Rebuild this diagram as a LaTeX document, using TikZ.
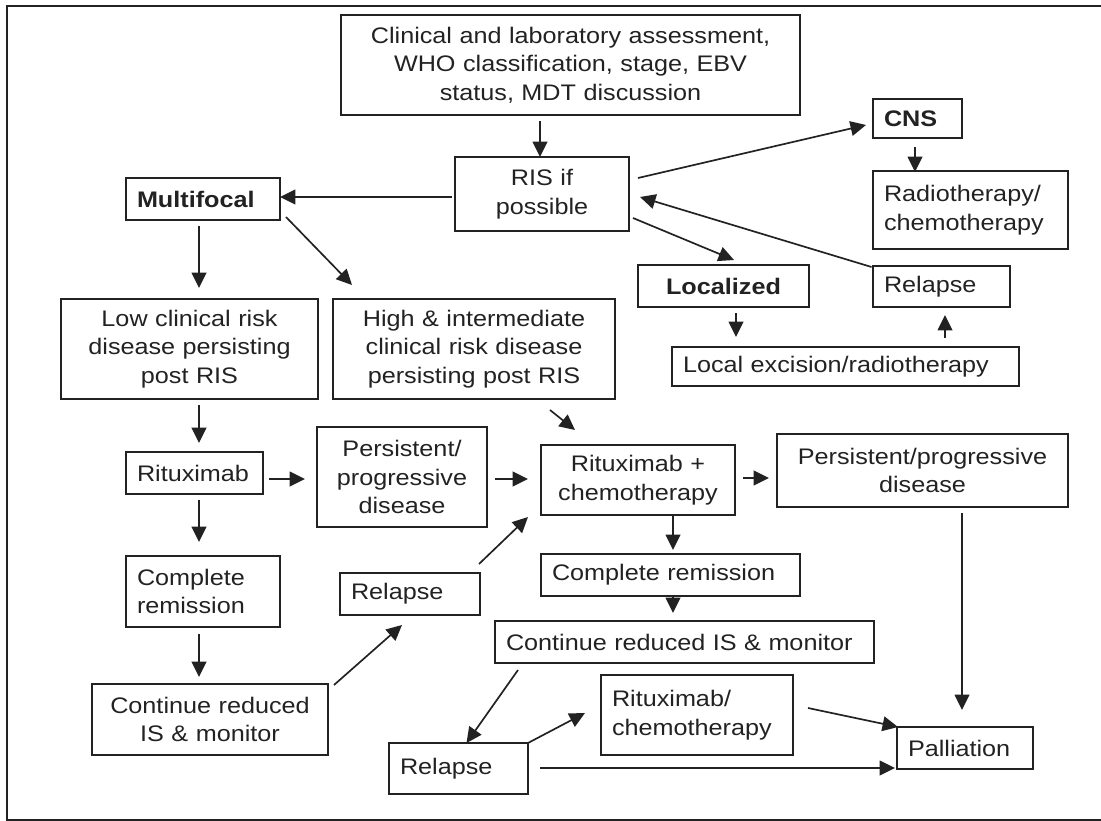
\documentclass[tikz,border=0pt]{standalone}
\usepackage{fontspec}
\setmainfont{Liberation Sans}[FakeStretch=1.12]
\usetikzlibrary{arrows.meta, calc}
\definecolor{ink}{HTML}{222222}

\begin{document}
\begin{tikzpicture}[
    x=0.025cm, y=-0.025cm,
    box/.style={draw=ink, line width=1.4pt, text=ink, inner xsep=0.275cm, inner ysep=0pt, font=\fontsize{16pt}{20.2pt}\selectfont},
    cbox/.style 2 args={box, align=center, text width=(#1-22)*0.025cm, minimum height=#2*0.025cm},
    lbox/.style 2 args={box, align=left, text width=(#1-22)*0.025cm, minimum height=#2*0.025cm},
    arrow/.style={-{Triangle[length=11pt, width=10.5pt]}, line width=1.2pt, ink},
]
\useasboundingbox (0,0) rectangle (1101,821);

% Frame
\draw[ink, line width=1pt] (1101,6) -- (7,6) -- (7,820) -- (1101,820);

% Assessment
\node[cbox={459}{100}] (assess) at (570.5,65) {Clinical and laboratory assessment,\\WHO classification, stage, EBV\\status, MDT discussion};
\node[cbox={174}{74}] (ris) at (542,194) {RIS if\\possible};

% CNS
\node[lbox={89}{39}] (cns) at (917.5,118.5) {\textbf{CNS}};
\node[lbox={195}{78}] (radio) at (970.5,210) {Radiotherapy/\\chemotherapy};

% Localized
\node[cbox={171}{42}] (local) at (723.5,286) {\textbf{Localized}};
\node[lbox={137}{41}] (relapseT) at (941.5,286.5) {Relapse};
\node[lbox={347}{39}] (excision) at (845.5,366.5) {Local excision/radiotherapy};

% Multifocal
\node[lbox={154}{42}] (multi) at (203,199) {\textbf{Multifocal}};
\node[cbox={257}{100}] (low) at (189.5,349) {Low clinical risk\\disease persisting\\post RIS};
\node[cbox={282}{100}] (high) at (474,349) {High \& intermediate\\clinical risk disease\\persisting post RIS};

% Low risk
\node[lbox={137}{42}] (ritux) at (194.5,473) {Rituximab};
\node[cbox={170}{100}] (persistL) at (402,477) {Persistent/\\progressive\\disease};
\node[lbox={154}{71}] (remitL) at (203,591.5) {Complete\\remission};
\node[cbox={236}{71}] (monitorL) at (210,719.5) {Continue reduced\\IS \& monitor};
\node[lbox={140}{42}] (relapseM) at (410,594) {Relapse};

% High risk
\node[cbox={194}{70}] (rchemo) at (638,480) {Rituximab +\\chemotherapy};
\node[cbox={291}{73}] (persistR) at (922.5,470.5) {Persistent/progressive\\disease};
\node[lbox={259}{42}] (remitR) at (670.5,575) {Complete remission};
\node[lbox={379}{42}] (monitorR) at (684.5,642) {Continue reduced IS \& monitor};
\node[lbox={192}{80}] (salvage) at (697,715) {Rituximab/\\chemotherapy\\[6pt]};
\node[lbox={139}{51}] (relapseB) at (458.5,768.5) {Relapse};
\node[lbox={136}{42}] (pall) at (965,748) {Palliation};

% Arrows
\foreach \i/\di/\j/\dj in {
    assess/{-30.5,56}/ris/{-2,-37},
    ris/{-90,3}/multi/{77,-2},
    multi/{-4,27}/low/{9.5,-61},
    multi/{83,18}/high/{-122,-64},
    ris/{96,-16}/cns/{-51.5,6.5},
    cns/{-2.5,28.5}/radio/{-55.5,-38},
    ris/{91,24}/local/{10.5,-26},
    relapseT/{-70,-19.5}/ris/{98,3},
    local/{12.5,27}/excision/{-109.5,-29.5},
    excision/{99.5,-28.5}/relapseT/{3.5,28.5},
    low/{9.5,56}/ritux/{4.5,-30},
    high/{76,61}/rchemo/{-63,-50},
    ritux/{74.5,6}/persistL/{-97,2},
    persistL/{93,2}/rchemo/{-110,-1},
    ritux/{4.5,27}/remitL/{-4,-49.5},
    remitL/{-4,42.5}/monitorL/{-11,-42.5},
    monitorL/{124,-34.5}/relapseM/{-8,31},
    relapseM/{69,-30}/rchemo/{-110,37},
    rchemo/{105,-2}/persistR/{-153.5,7.5},
    rchemo/{35,35}/remitR/{2.5,-25},
    remitR/{2.5,21}/monitorR/{-11.5,-29},
    monitorR/{-166.5,28}/relapseB/{8,-25.5},
    relapseB/{69.5,-25.5}/salvage/{-112,-2},
    salvage/{111,-7}/pall/{-67,-21},
    persistR/{39.5,42.5}/pall/{-3,-38},
    relapseB/{81.5,-0.5}/pall/{-70,20}} {
    \draw[arrow] ($(\i)+(\di)$) -- ($(\j)+(\dj)$);
}

\end{tikzpicture}
\end{document}
